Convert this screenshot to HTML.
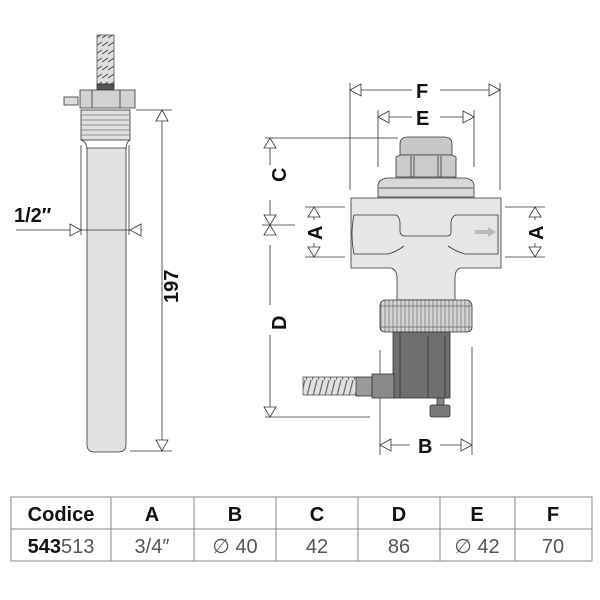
<!DOCTYPE html>
<html><head><meta charset="utf-8"><style>
html,body{margin:0;padding:0;background:#fff;}
svg{display:block;}
text{font-family:"Liberation Sans",sans-serif;}
</style></head><body>
<svg width="600" height="600" viewBox="0 0 600 600" xmlns="http://www.w3.org/2000/svg">
<defs>
<pattern id="sp" width="6" height="8" patternUnits="userSpaceOnUse">
<rect width="6" height="8" fill="#e0e0e0"/><path d="M0 6 L6 2" stroke="#666" stroke-width="1.2"/>
</pattern>
<pattern id="sph" width="6" height="20" patternUnits="userSpaceOnUse">
<rect width="6" height="20" fill="#e0e0e0"/><path d="M0 20 L5 0" stroke="#666" stroke-width="1.2"/>
</pattern>
<pattern id="kn" width="4" height="30" patternUnits="userSpaceOnUse">
<rect width="4" height="30" fill="#d4d4d4"/><path d="M1 0 V30" stroke="#777" stroke-width="0.8"/>
</pattern>
</defs>
<g stroke="#333" stroke-width="0.8" fill="none">
<!-- LEFT PROBE -->
<rect x="97" y="35" width="17" height="52" fill="url(#sp)" stroke="#555"/>
<rect x="97" y="84" width="17" height="6" fill="#555"/>
<rect x="64" y="97" width="14" height="8" fill="#ddd"/>
<path d="M80 90 H135 V108 H80 Z" fill="#d2d2d2"/>
<path d="M92 90 V108 M120 90 V108"/>
<rect x="81" y="110" width="49" height="30" fill="#e0e0e0"/>
<path d="M81 115 H130 M81 120 H130 M81 125 H130 M81 130 H130 M81 135 H130" stroke="#777"/>
<path d="M87 148 V445 Q87 452 95 452 H118 Q126 452 126 445 V148 Z" fill="#e2e2e2"/>
<path d="M81 140 Q87 142 87 150 M130 140 Q126 142 126 150"/>
<path d="M81 145 V235 M129 145 V235"/>
<!-- 1/2 dim -->
<path d="M16 230 H142"/>
<path d="M70 224 L81 230 L70 236 Z M141 224 L130 230 L141 236 Z" fill="#fff"/>
<!-- 197 dim -->
<path d="M136 110 H172 M130 451 H172 M162 110 V451"/>
<path d="M156 121 L162 110 L168 121 Z M156 440 L162 451 L168 440 Z" fill="#fff"/>

<!-- RIGHT DEVICE dims -->
<path d="M350 83 V190 M500 83 V190 M350 90 H412 M440 90 H500"/>
<path d="M361 84 L350 90 L361 96 Z M489 84 L500 90 L489 96 Z" fill="#fff"/>
<path d="M378 110 V167 M474 110 V167 M378 117 H412 M440 117 H474"/>
<path d="M389 111 L378 117 L389 123 Z M463 111 L474 117 L463 123 Z" fill="#fff"/>
<path d="M265 138 H398 M270 138 V165 M270 200 V228 M270 245 V305 M270 335 V417 M265 417 H370 M262 225 H295"/>
<path d="M264 148 L270 138 L276 148 Z M264 215 L270 225 L276 215 Z M264 235 L270 225 L276 235 Z M264 407 L270 417 L276 407 Z" fill="#fff"/>
<path d="M305 207 H345 M305 257 H345 M314 215 V220 M314 243 V250"/>
<path d="M308 217 L314 207 L320 217 Z M308 247 L314 257 L320 247 Z" fill="#fff"/>
<path d="M505 207 H545 M505 257 H545 M535 215 V220 M535 243 V250"/>
<path d="M529 217 L535 207 L541 217 Z M529 247 L535 257 L541 247 Z" fill="#fff"/>
<path d="M380 350 V455 M472 347 V455 M380 445 H410 M440 445 H472"/>
<path d="M391 439 L380 445 L391 451 Z M461 439 L472 445 L461 451 Z" fill="#fff"/>

<!-- device body -->
<path d="M400 155 V144 Q400 137 408 137 H444 Q452 137 452 144 V155 Z" fill="#c8c8c8"/>
<path d="M396 157 L400 155 H452 L456 157 V177 H396 Z" fill="#cbcbcb"/>
<path d="M411 156 V177 M414 156 V177 M438 156 V177 M441 156 V177"/>
<path d="M378 197 V186 Q378 180 386 178 H466 Q474 180 474 186 V197 Z" fill="#d8d8d8"/>
<path d="M379 188 H473"/>
<path d="M351 198 H501 V268 H460 Q455 270 455 278 V300 H397 V278 Q397 270 391 268 H351 Z" fill="#e6e6e6"/>
<path d="M354 215 H396 Q399 216 400 222 V232 Q401 236 405 236 H447 Q451 236 451 232 V222 Q452 216 456 215 H498 V254 H465 Q457 252 448 246 M354 215 Q350 234 354 254 H388 Q396 252 404 246"/>
<path d="M475 232 H491" stroke="#bbb" stroke-width="4"/>
<path d="M488 227 L496 232 L488 237 Z" fill="#bbb" stroke="none"/>
<path d="M380 307 Q380 300 386 300 H466 Q472 300 472 307 V327 Q472 332 466 332 H386 Q380 332 380 327 Z" fill="url(#kn)"/>
<path d="M380 306 H472 M380 327 H472" stroke="#666"/>
<rect x="393" y="332" width="57" height="66" fill="#6f6f6f"/>
<path d="M400 332 V398 M428 336 V398 M445 336 V398" stroke="#333"/>
<rect x="372" y="374" width="22" height="24" fill="#8a8a8a"/>
<rect x="356" y="377" width="16" height="19" fill="#9a9a9a"/>
<rect x="303" y="377" width="53" height="18" fill="url(#sph)" stroke="#555"/>
<rect x="437" y="398" width="7" height="7" fill="#888"/>
<rect x="430" y="405" width="20" height="12" rx="2" fill="#7a7a7a"/>

<!-- TABLE -->
<g stroke="#888" stroke-width="1">
<rect x="11" y="497" width="581" height="64"/>
<path d="M11 529 H592 M111 497 V561 M194 497 V561 M276 497 V561 M358 497 V561 M440 497 V561 M515 497 V561"/>
</g>
</g>
<g fill="#111" font-weight="bold" font-size="20">
<text x="14" y="222">1/2″</text>
<text x="160" y="285" transform="rotate(-90 178 285)" x2="0">197</text>
<text x="416" y="98">F</text>
<text x="416" y="125">E</text>
<text transform="translate(286 182) rotate(-90)">C</text>
<text transform="translate(322 240) rotate(-90)">A</text>
<text transform="translate(543 240) rotate(-90)">A</text>
<text transform="translate(286 330) rotate(-90)">D</text>
<text x="418" y="453">B</text>
</g>
<g font-size="20" text-anchor="middle" fill="#111">
<text x="61" y="521" font-weight="bold">Codice</text>
<text x="152" y="521" font-weight="bold">A</text>
<text x="235" y="521" font-weight="bold">B</text>
<text x="317" y="521" font-weight="bold">C</text>
<text x="399" y="521" font-weight="bold">D</text>
<text x="477" y="521" font-weight="bold">E</text>
<text x="553" y="521" font-weight="bold">F</text>
<text x="61" y="553"><tspan font-weight="bold">543</tspan><tspan fill="#555">513</tspan></text>
<g fill="#555">
<text x="152" y="553">3/4″</text>
<text x="235" y="553">∅ 40</text>
<text x="317" y="553">42</text>
<text x="399" y="553">86</text>
<text x="477" y="553">∅ 42</text>
<text x="553" y="553">70</text>
</g>
</g>
</svg>
</body></html>
